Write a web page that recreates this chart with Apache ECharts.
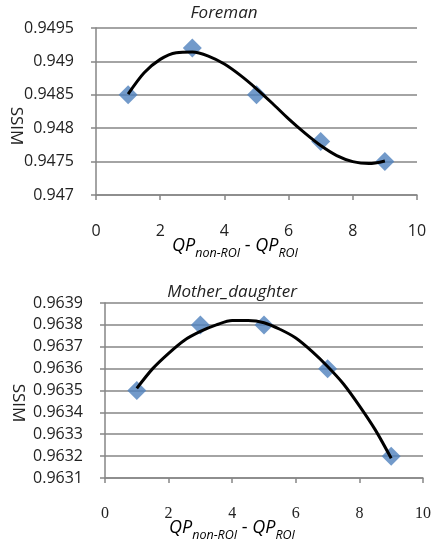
<!DOCTYPE html>
<html>
<head>
<meta charset="utf-8">
<script src="https://cdn.jsdelivr.net/npm/echarts@6/dist/echarts.min.js"></script>
<style>
  html, body { margin: 0; padding: 0; background: #fff; }
  #main { width: 434px; height: 544px; }
</style>
</head>
<body>
<div id="main"></div>
<script>
// measured points (QP difference vs SSIM)
var qpDiff = [1, 3, 5, 7, 9];
var foremanSsim = [0.9485, 0.9492, 0.9485, 0.9478, 0.9475];
var motherSsim = [0.9635, 0.9638, 0.9638, 0.9636, 0.9632];

// trend lines, every half step
var trendX = [1, 1.5, 2, 2.5, 3, 3.5, 4, 4.5, 5, 5.5, 6, 6.5, 7, 7.5, 8, 8.5, 9];
var foremanTrend = [0.94851, 0.94883, 0.94903, 0.94913, 0.94914, 0.94908, 0.94896, 0.94879, 0.94859,
  0.94837, 0.94814, 0.94793, 0.94774, 0.94759, 0.94750, 0.94747, 0.94751];
var motherTrend = [0.96351, 0.96360, 0.96367, 0.96373, 0.96377, 0.96380, 0.96382, 0.96382, 0.96381,
  0.96378, 0.96374, 0.96368, 0.96361, 0.96353, 0.96343, 0.96332, 0.96319];

var titles = ["Foreman", "Mother_daughter"];

var gray = "#868686";
var sans = "Open Sans";

function pairs(xs, ys) {
  var out = [];
  for (var i = 0; i < xs.length; i++) out.push([xs[i], ys[i]]);
  return out;
}

function xAxisCfg(gridIndex, fontFamily) {
  return {
    type: "value",
    gridIndex: gridIndex,
    min: 0,
    max: 10,
    interval: 2,
    axisLine: { show: true, lineStyle: { color: gray, width: 1.5 } },
    axisTick: { show: true, length: 5, lineStyle: { color: gray, width: 1.5 } },
    splitLine: { show: false },
    axisLabel: { margin: 28, color: "#222", fontSize: 16, fontFamily: fontFamily },
  };
}

function yAxisCfg(gridIndex, min, max, interval) {
  return {
    type: "value",
    gridIndex: gridIndex,
    min: min,
    max: max,
    interval: interval,
    axisLine: { show: true, lineStyle: { color: gray, width: 1.5 } },
    axisTick: { show: true, length: 5, lineStyle: { color: gray, width: 1.5 } },
    splitLine: { show: true, lineStyle: { color: gray, width: 1.5 } },
    axisLabel: {
      margin: 22,
      color: "#222",
      fontSize: 16,
      fontFamily: sans,
      formatter: function (v) {
        return String(+v.toFixed(4));
      },
    },
  };
}

var qpRich = {
  i: { fontSize: 18, fontStyle: "italic", fontFamily: sans, color: "#222" },
  s: { fontSize: 12.5, fontStyle: "italic", fontFamily: sans, color: "#222", verticalAlign: "bottom", padding: [0, 0, -5, 0] },
  n: { fontSize: 18, fontFamily: sans, color: "#222" },
};

var option = {
  animation: false,
  backgroundColor: "#fff",
  title: [
    { text: titles[0], left: 219, top: 0, textAlign: "center",
      textStyle: { fontSize: 17, fontStyle: "italic", fontWeight: "normal", fontFamily: sans, color: "#222" } },
    { text: titles[1], left: 227, top: 279, textAlign: "center",
      textStyle: { fontSize: 17, fontStyle: "italic", fontWeight: "normal", fontFamily: sans, color: "#222" } },
  ],
  grid: [
    { left: 96, right: 17, top: 28, bottom: 349 },
    { left: 105, right: 7, top: 303, bottom: 66 },
  ],
  xAxis: [xAxisCfg(0, sans), xAxisCfg(1, "Liberation Serif")],
  yAxis: [yAxisCfg(0, 0.947, 0.9495, 0.0005), yAxisCfg(1, 0.9631, 0.9639, 0.0001)],
  graphic: [
    { type: "text", x: 16, y: 126, rotation: -Math.PI / 2,
      style: { text: "SSIM", fontSize: 17, fontFamily: sans, fill: "#222", align: "center", verticalAlign: "middle" } },
    { type: "text", x: 18, y: 403, rotation: -Math.PI / 2,
      style: { text: "SSIM", fontSize: 17, fontFamily: sans, fill: "#222", align: "center", verticalAlign: "middle" } },
    { type: "text", x: 235, y: 246,
      style: { text: "{i|QP}{s|non-ROI}{n| - }{i|QP}{s|ROI}", rich: qpRich, align: "center", verticalAlign: "middle" } },
    { type: "text", x: 232, y: 528,
      style: { text: "{i|QP}{s|non-ROI}{n| - }{i|QP}{s|ROI}", rich: qpRich, align: "center", verticalAlign: "middle" } },
  ],
  series: [
    { type: "scatter", xAxisIndex: 0, yAxisIndex: 0, symbol: "diamond", symbolSize: 19,
      itemStyle: { color: "#4F81BD" }, data: pairs(qpDiff, foremanSsim), z: 2 },
    { type: "line", xAxisIndex: 0, yAxisIndex: 0, smooth: 0.3, showSymbol: false, symbol: "none",
      lineStyle: { color: "#000", width: 3 }, data: pairs(trendX, foremanTrend), z: 3 },
    { type: "scatter", xAxisIndex: 1, yAxisIndex: 1, symbol: "diamond", symbolSize: 19,
      itemStyle: { color: "#4F81BD" }, data: pairs(qpDiff, motherSsim), z: 2 },
    { type: "line", xAxisIndex: 1, yAxisIndex: 1, smooth: 0.3, showSymbol: false, symbol: "none",
      lineStyle: { color: "#000", width: 3 }, data: pairs(trendX, motherTrend), z: 3 },
  ],
};

var chart = echarts.init(document.getElementById("main"));
chart.setOption(option);
</script>
</body>
</html>
